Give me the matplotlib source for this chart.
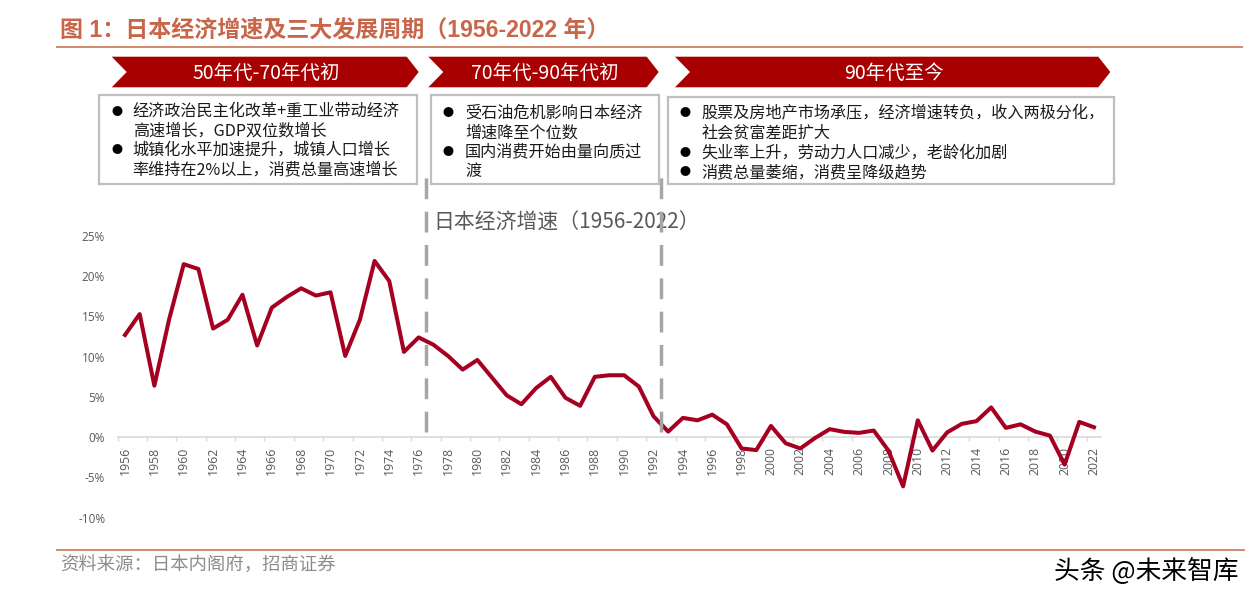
import matplotlib
matplotlib.use("Agg")
import matplotlib.pyplot as plt
from matplotlib.patches import Polygon, Rectangle
from matplotlib.transforms import Affine2D

plt.rcParams['font.family'] = ['Noto Sans CJK SC', 'DejaVu Sans']

# nominal GDP growth of Japan, %
years = list(range(1956, 2023))
growth = [12.7, 15.3, 6.4, 14.6, 21.5, 20.9, 13.5, 14.6, 17.7, 11.4,
          16.1, 17.4, 18.5, 17.6, 18.0, 10.1, 14.6, 21.9, 19.4, 10.6,
          12.4, 11.5, 10.1, 8.4, 9.6, 7.4, 5.2, 4.1, 6.1, 7.5,
          4.9, 3.9, 7.5, 7.7, 7.7, 6.3, 2.6, 0.7, 2.4, 2.1,
          2.8, 1.6, -1.4, -1.6, 1.4, -0.75, -1.4, -0.1, 1.0, 0.66,
          0.54, 0.83, -1.66, -6.1, 2.1, -1.66, 0.6, 1.66, 2.0, 3.7,
          1.16, 1.6, 0.7, 0.2, -3.4, 1.9, 1.24]
dividers = [1976.5, 1992.5]
yticks = [-10, -5, 0, 5, 10, 15, 20, 25]

title = "图 1：日本经济增速及三大发展周期（1956-2022 年）"
chart_title = "日本经济增速（1956-2022）"
periods = ["50年代-70年代初", "70年代-90年代初", "90年代至今"]
notes = [
  ["经济政治民主化改革+重工业带动经济", "高速增长，GDP双位数增长", "城镇化水平加速提升，城镇人口增长", "率维持在2%以上，消费总量高速增长"],
  ["受石油危机影响日本经济", "增速降至个位数", "国内消费开始由量向质过", "渡"],
  ["股票及房地产市场承压，经济增速转负，收入两极分化，", "社会贫富差距扩大", "失业率上升，劳动力人口减少，老龄化加剧", "消费总量萎缩，消费呈降级趋势"],
]
bullets = [[True, False, True, False], [True, False, True, False], [True, False, True, True]]
source = "资料来源：日本内阁府，招商证券"
mark = "头条 @未来智库"

W, H = 1259, 612
fig = plt.figure(figsize=(W / 100, H / 100), dpi=100)
px = Affine2D().scale(1 / W, -1 / H).translate(0, 1) + fig.transFigure  # pixels, origin top-left

RED = '#A80000'
BROWN = '#C8664A'

# chart area
ax = fig.add_axes([117.66 / W, (H - 517.7) / H, (1101.3 - 117.66) / W, (517.7 - 236) / H])
ax.plot(years, growth, color='#A50021', lw=2.9, zorder=3)
ax.set_xlim(1955.5, 2022.5)
ax.set_ylim(-10, 25)
for s in ['left', 'top', 'right']:
  ax.spines[s].set_visible(False)
ax.spines['bottom'].set_position(('data', 0))
ax.spines['bottom'].set_color('#d9d9d9')
ax.spines['bottom'].set_linewidth(1.2)
ax.set_xticks(years[::2])
ax.set_xticklabels([str(y) for y in years[::2]], rotation=90, fontsize=8.8, color='#595959', family='Open Sans')
ax.set_xticks([y - 0.5 for y in years[::2]], minor=True)
ax.tick_params(axis='x', which='major', length=0, pad=6.8)
ax.tick_params(axis='x', which='minor', length=3, color='#d9d9d9', width=1)
ax.set_yticks(yticks)
ax.set_yticklabels([f"{v}%" for v in yticks], fontsize=8.5, color='#595959', family='Open Sans')
ax.tick_params(axis='y', length=0, pad=9)

for d in dividers:
  ax.plot([d, d], [0.6, 33.2], color='#a6a6a6', lw=2.5, dashes=(6, 3.6), clip_on=False, zorder=4)

ax.text(433, 223, chart_title, transform=px, fontsize=15, color='#595959', va='center', ha='left', zorder=2)

# title and rules
fig.text(60, 31, title, transform=px, fontsize=16.6, fontweight='bold', color=BROWN, va='center',
         family=['Liberation Sans', 'Noto Sans CJK SC'])
fig.add_artist(plt.Line2D([57, 1242], [47, 47], transform=px, color='#D08A6E', lw=1.4))
fig.add_artist(plt.Line2D([57, 1244], [550, 550], transform=px, color='#D08A6E', lw=1.4))

# period banners
banners = [(111.7, 406.7), (428.3, 646.7), (675, 1098.3)]
for (l, r), label in zip(banners, periods):
  top, bot, mid = 56.7, 87.3, 72
  pts = [(l, top), (r, top), (r + 12, mid), (r, bot), (l, bot), (l + 15, mid)]
  fig.add_artist(Polygon(pts, closed=True, transform=px, facecolor=RED, edgecolor='none'))
  fig.text((l + 15 + r) / 2, mid + 1, label, transform=px, fontsize=14, color='white', ha='center', va='center')

# note boxes
boxes = [(99.3, 416.7, 95, 184), (430.7, 659.3, 95, 184), (668.3, 1114, 96.7, 184)]
bullet_x = [116.7, 448.3, 685]
text_x = [132.7, 465, 701.7]
line_y = [[111.5, 131, 150.5, 170], [113, 132.5, 152, 171.5], [113, 133, 153, 172.5]]
for i, (l, r, t, b) in enumerate(boxes):
  fig.add_artist(Rectangle((l, t), r - l, b - t, transform=px, facecolor='white', edgecolor='#bfbfbf', lw=1.6))
  for line, hasb, y in zip(notes[i], bullets[i], line_y[i]):
    if hasb:
      fig.text(bullet_x[i], y, "●", transform=px, fontsize=8, color='black', ha='center', va='center')
    fig.text(text_x[i], y, line, transform=px, fontsize=11.6, color='#1a1a1a', ha='left', va='center')

# footer
fig.text(60, 566, source, transform=px, fontsize=13.2, color='#8c8c8c', ha='left', va='center')
fig.text(1239, 571, mark, transform=px, fontsize=18.5, color='black', ha='right', va='center')

fig.savefig("out.png", dpi=100)
